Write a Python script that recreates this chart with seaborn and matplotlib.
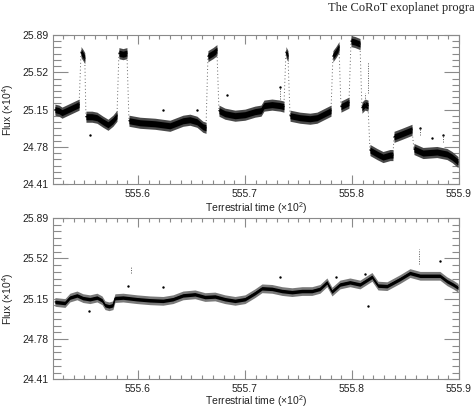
import numpy as np
import pandas as pd
import seaborn as sns
import matplotlib
matplotlib.use("Agg")
import matplotlib.pyplot as plt
import matplotlib.ticker as ticker

# ---- data (time in units of 10^2, flux in 10^4) ----
TOP_SEG = (["A"] * 7 + ["B"] * 3 + ["C"] * 7 + ["D"] * 3 + ["E"] * 9 + ["F"] * 3
           + ["G"] * 10 + ["H"] * 2 + ["I"] * 6 + ["J"] * 3 + ["K"] * 3 + ["L"] * 3
           + ["M"] * 3 + ["N"] * 5 + ["O"] * 3 + ["P"] * 6)
TOP_T = [555.5224, 555.5262, 555.5290, 555.5330, 555.5370, 555.5410, 555.5450,
         555.5468, 555.5487, 555.5503,
         555.5514, 555.5570, 555.5617, 555.5673, 555.5720, 555.5766, 555.5804,
         555.5822, 555.5860, 555.5897,
         555.5916, 555.6019, 555.6159, 555.6299, 555.6421, 555.6486, 555.6551, 555.6607, 555.6636,
         555.6654, 555.6701, 555.6738,
         555.6757, 555.6813, 555.6907, 555.7000, 555.7093, 555.7150, 555.7178, 555.7252, 555.7327, 555.7364,
         555.7383, 555.7402,
         555.7421, 555.7514, 555.7607, 555.7673, 555.7748, 555.7804,
         555.7822, 555.7850, 555.7879,
         555.7897, 555.7935, 555.7972,
         555.7991, 555.8028, 555.8075,
         555.8093, 555.8121, 555.8150,
         555.8168, 555.8234, 555.8290, 555.8355, 555.8383,
         555.8393, 555.8467, 555.8561,
         555.8579, 555.8664, 555.8794, 555.8888, 555.8935, 555.8991]
TOP_FLUX = [25.15, 25.14, 25.12, 25.14, 25.16, 25.18, 25.20,
            25.72, 25.69, 25.66,
            25.08, 25.08, 25.07, 25.03, 25.00, 25.04, 25.09,
            25.71, 25.70, 25.71,
            25.04, 25.02, 25.01, 24.99, 25.04, 25.05, 25.03, 24.98, 24.97,
            25.68, 25.71, 25.74,
            25.14, 25.11, 25.09, 25.10, 25.13, 25.14, 25.19, 25.20, 25.19, 25.18,
            25.72, 25.68,
            25.09, 25.07, 25.06, 25.07, 25.11, 25.14,
            25.68, 25.72, 25.77,
            25.18, 25.20, 25.22,
            25.83, 25.82, 25.80,
            25.17, 25.20, 25.19,
            24.75, 24.71, 24.68, 24.70, 24.70,
            24.88, 24.91, 24.95,
            24.76, 24.72, 24.73, 24.71, 24.68, 24.63]
TOP_OUT_T = [555.5551, 555.6234, 555.6551, 555.6832, 555.7327, 555.8640, 555.8748, 555.8850]
TOP_OUT_F = [24.90, 25.15, 25.15, 25.30, 25.37, 24.97, 24.87, 24.90]
TOP_STREAK_T = [555.8150, 555.7327, 555.8121, 555.8636, 555.8850]
TOP_STREAK_LO = [25.32, 25.26, 25.22, 24.90, 24.83]
TOP_STREAK_HI = [25.62, 25.37, 25.32, 24.99, 24.92]

BOT_T = [555.5224, 555.5318, 555.5364, 555.5430, 555.5486, 555.5551, 555.5617, 555.5664,
         555.5692, 555.5729, 555.5766, 555.5785, 555.5860, 555.5991, 555.6112, 555.6234,
         555.6327, 555.6421, 555.6533, 555.6626, 555.6720, 555.6813, 555.6907, 555.7000,
         555.7093, 555.7159, 555.7252, 555.7346, 555.7439, 555.7533, 555.7626, 555.7701,
         555.7766, 555.7813, 555.7888, 555.7981, 555.8075, 555.8187, 555.8243, 555.8327,
         555.8374, 555.8449, 555.8542, 555.8636, 555.8729, 555.8822, 555.8888, 555.8944,
         555.8991]
BOT_FLUX = [25.12, 25.11, 25.16, 25.18, 25.155, 25.145, 25.16, 25.135,
            25.09, 25.08, 25.09, 25.155, 25.16, 25.145, 25.135, 25.13,
            25.145, 25.18, 25.19, 25.165, 25.17, 25.145, 25.13, 25.145,
            25.20, 25.245, 25.24, 25.22, 25.21, 25.22, 25.22, 25.24,
            25.30, 25.215, 25.28, 25.30, 25.28, 25.35, 25.27, 25.265,
            25.29, 25.33, 25.385, 25.36, 25.36, 25.36, 25.31, 25.28,
            25.25]
BOT_OUT_T = [555.5542, 555.5907, 555.6234, 555.7327, 555.7850, 555.8150, 555.8121, 555.8822]
BOT_OUT_F = [25.035, 25.27, 25.26, 25.35, 25.35, 25.08, 25.38, 25.50]
BOT_STREAK_T = [555.5935, 555.8626]
BOT_STREAK_LO = [25.39, 25.47]
BOT_STREAK_HI = [25.45, 25.61]

Y_TICKS = [24.41, 24.78, 25.15, 25.52, 25.89]
X_TICKS = [555.6, 555.7, 555.8, 555.9]
XLIM = (555.5206, 555.9)

# ---- style ----
sns.set_style("ticks")
plt.rcParams['font.family'] = ['Liberation Sans', 'DejaVu Sans']
plt.rcParams['mathtext.fontset'] = 'custom'
plt.rcParams['mathtext.rm'] = 'Liberation Sans'
plt.rcParams['mathtext.default'] = 'regular'
FRAME = "#8a8a8a"


def style_axes(ax, xlab_y):
    ax.set_xlim(*XLIM)
    ax.set_ylim(Y_TICKS[0], Y_TICKS[-1])
    ax.set_xticks(X_TICKS)
    ax.set_xticklabels([f"{v:.1f}" for v in X_TICKS])
    ax.set_yticks(Y_TICKS)
    ax.set_yticklabels([f"{v:.2f}" for v in Y_TICKS])
    ax.xaxis.set_minor_locator(ticker.MultipleLocator(0.01))
    ax.yaxis.set_minor_locator(ticker.AutoMinorLocator(6))
    ax.tick_params(which="both", direction="in", top=True, right=True,
                   color=FRAME, labelcolor="#222222", labelsize=7.5, width=0.8)
    ax.tick_params(axis="x", which="major", length=6.5, pad=3.4)
    ax.tick_params(axis="x", which="minor", length=3.2)
    ax.tick_params(axis="y", which="major", length=10.8, pad=3)
    ax.tick_params(axis="y", which="minor", length=5.4)
    for sp in ax.spines.values():
        sp.set_color(FRAME)
        sp.set_linewidth(0.8)
        sp.set_visible(True)
    ax.set_xlabel(r"Terrestrial time ($\times$10$^2$)", fontsize=7.5, color="#222222")
    ax.set_ylabel(r"Flux ($\times$10$^4$)", fontsize=7.5, color="#222222")
    ax.xaxis.set_label_coords(0.5, xlab_y)
    ax.yaxis.set_label_coords(-0.092, 0.5)


def noisy_band(ax, t, f, outer, inner, outer_color, core_lw):
    # loose scatter of the points, then the dense core of the curve
    t = np.asarray(t)
    f = np.asarray(f)
    ax.fill_between(t, f - outer, f + outer, color=outer_color, lw=0)
    ax.fill_between(t, f - inner, f + inner, color="black", lw=0)
    sns.lineplot(x=t, y=f, ax=ax, color="black", lw=core_lw, estimator=None,
                 sort=False, legend=False)


fig = plt.figure(figsize=(4.74, 4.08), dpi=100)
ax1 = fig.add_axes([0.1118, 0.5483, 0.8565, 0.3659])
ax2 = fig.add_axes([0.1118, 0.0703, 0.8565, 0.3953])

# top panel: segments of the light curve
top = pd.DataFrame({"t": TOP_T, "flux": TOP_FLUX, "seg": TOP_SEG})
segs = list(dict.fromkeys(TOP_SEG))
for a, b in zip(segs[:-1], segs[1:]):
    sa = top[top.seg == a].iloc[-1]
    sb = top[top.seg == b].iloc[0]
    ax1.plot([sa.t, sb.t], [sa.flux, sb.flux], ls=(0, (1, 2.5)), color="#666666", lw=0.7)
for s in segs:
    d = top[top.seg == s]
    noisy_band(ax1, d.t, d.flux, 0.055, 0.03, "#4a4a4a", 1.0)
ax1.vlines(TOP_STREAK_T, TOP_STREAK_LO, TOP_STREAK_HI, colors="#555555",
           linestyles=(0, (1, 1.5)), lw=0.7)
sns.scatterplot(x=TOP_OUT_T, y=TOP_OUT_F, ax=ax1, color="black", s=3, linewidth=0)
style_axes(ax1, -0.105)

# bottom panel: corrected light curve
noisy_band(ax2, BOT_T, BOT_FLUX, 0.04, 0.016, "#7a7a7a", 0.8)
ax2.vlines(BOT_STREAK_T, BOT_STREAK_LO, BOT_STREAK_HI, colors="#555555",
           linestyles=(0, (1, 1.5)), lw=0.7)
sns.scatterplot(x=BOT_OUT_T, y=BOT_OUT_F, ax=ax2, color="black", s=3, linewidth=0)
style_axes(ax2, -0.086)

fig.text(328 / 474, 1 - 11 / 408, "The CoRoT exoplanet progra",
         family=["Liberation Serif", "DejaVu Serif"], fontsize=9, va="baseline", ha="left")

fig.savefig("out.png", dpi=100)
